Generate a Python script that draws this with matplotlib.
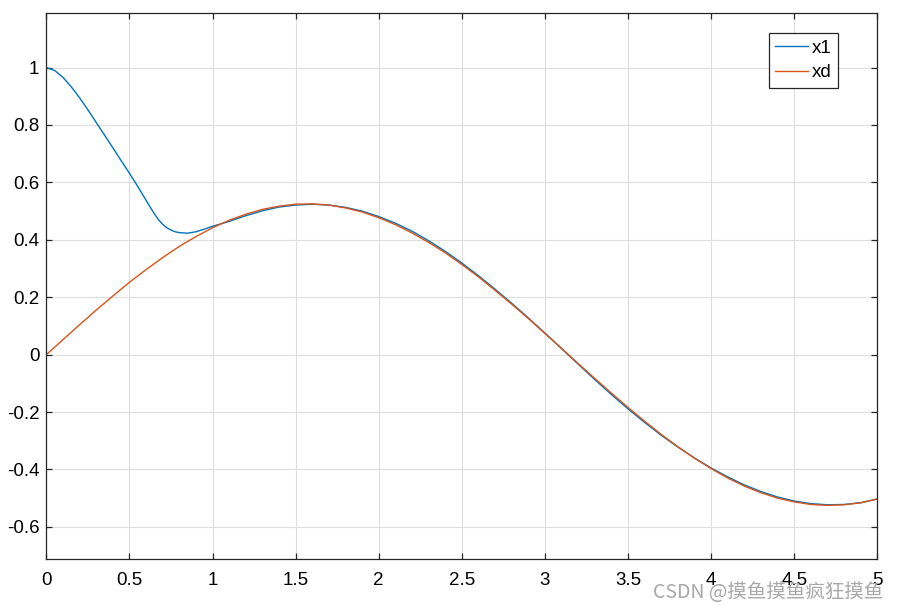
import numpy as np
import matplotlib.pyplot as plt

# time samples
t_x1 = [0.0, 0.05, 0.1, 0.15, 0.2, 0.25, 0.3, 0.35, 0.4, 0.45, 0.5,
        0.55, 0.6, 0.625, 0.65, 0.675, 0.7, 0.725, 0.75, 0.775, 0.8, 0.85, 0.9, 0.95, 1.0,
        1.1, 1.2, 1.3, 1.4, 1.5, 1.6, 1.7, 1.8, 1.9, 2.0,
        2.1, 2.2, 2.3, 2.4, 2.5, 2.6, 2.7, 2.8, 2.9, 3.0,
        3.1, 3.2, 3.3, 3.4, 3.5, 3.6, 3.7, 3.8, 3.9, 4.0,
        4.1, 4.2, 4.3, 4.4, 4.5, 4.6, 4.7, 4.8, 4.9, 5.0]
x1 = [1.000, 0.990, 0.966, 0.933, 0.895, 0.853, 0.809, 0.765, 0.721, 0.676, 0.632,
      0.586, 0.538, 0.514, 0.491, 0.470, 0.454, 0.442, 0.434, 0.428, 0.425, 0.423, 0.428, 0.437, 0.447,
      0.464, 0.484, 0.501, 0.514, 0.521, 0.524, 0.521, 0.513, 0.500, 0.481,
      0.458, 0.430, 0.397, 0.360, 0.319, 0.275, 0.228, 0.179, 0.128, 0.075,
      0.021, -0.033, -0.087, -0.139, -0.189, -0.236, -0.281, -0.322, -0.360, -0.395,
      -0.426, -0.454, -0.477, -0.496, -0.510, -0.519, -0.523, -0.522, -0.516, -0.503]

t_xd = [0.0, 0.1, 0.2, 0.3, 0.4, 0.5, 0.6, 0.7, 0.8, 0.9, 1.0,
        1.1, 1.2, 1.3, 1.4, 1.5, 1.6, 1.7, 1.8, 1.9, 2.0,
        2.1, 2.2, 2.3, 2.4, 2.5, 2.6, 2.7, 2.8, 2.9, 3.0,
        3.1, 3.2, 3.3, 3.4, 3.5, 3.6, 3.7, 3.8, 3.9, 4.0,
        4.1, 4.2, 4.3, 4.4, 4.5, 4.6, 4.7, 4.8, 4.9, 5.0]
xd = [0.000, 0.052, 0.104, 0.155, 0.204, 0.252, 0.296, 0.338, 0.377, 0.411, 0.442,
      0.468, 0.489, 0.506, 0.517, 0.524, 0.525, 0.521, 0.511, 0.497, 0.477,
      0.453, 0.424, 0.391, 0.355, 0.314, 0.271, 0.224, 0.176, 0.126, 0.074,
      0.022, -0.031, -0.083, -0.134, -0.184, -0.232, -0.278, -0.321, -0.361, -0.397,
      -0.430, -0.458, -0.481, -0.500, -0.513, -0.522, -0.525, -0.523, -0.516, -0.503]

xticks = [0, 0.5, 1, 1.5, 2, 2.5, 3, 3.5, 4, 4.5, 5]
xtick_labels = ['0', '0.5', '1', '1.5', '2', '2.5', '3', '3.5', '4', '4.5', '5']
yticks = [-0.6, -0.4, -0.2, 0, 0.2, 0.4, 0.6, 0.8, 1]
ytick_labels = ['-0.6', '-0.4', '-0.2', '0', '0.2', '0.4', '0.6', '0.8', '1']

plt.rcParams['font.family'] = ['Liberation Sans', 'DejaVu Sans']

fig = plt.figure(figsize=(8.99, 6.11), dpi=100)
ax = fig.add_axes([0.0515, 0.0846, 0.9244, 0.8941])

ax.plot(t_x1, x1, color='#0072BD', lw=1.0, label='x1')
ax.plot(t_xd, xd, color='#D95319', lw=1.0, label='xd')

ax.set_xlim(0, 5)
ax.set_ylim(-0.713, 1.19)
ax.set_xticks(xticks)
ax.set_xticklabels(xtick_labels)
ax.set_yticks(yticks)
ax.set_yticklabels(ytick_labels)
ax.grid(True, color='#dedede', lw=0.8)
ax.set_axisbelow(True)
ax.tick_params(direction='in', length=4.5, width=0.9, colors='#262626',
               labelcolor='black', labelsize=13.5, top=True, right=True)
ax.tick_params(axis='x', pad=9)
ax.tick_params(axis='y', pad=5)
for s in ax.spines.values():
    s.set_color('#262626')
    s.set_linewidth(0.9)

leg = ax.legend(loc='upper right', bbox_to_anchor=(0.9527, 0.9634),
                borderaxespad=0, fontsize=13.5, fancybox=False,
                edgecolor='#262626', framealpha=1, handlelength=1.75,
                handletextpad=0.2, borderpad=0.35, labelspacing=0.4)
leg.get_frame().set_linewidth(0.9)

fig.text(0.983, 0.031, 'CSDN @摸鱼摸鱼疯狂摸鱼', ha='right', va='center',
         fontsize=14, color='#a8a8a8',
         family=['Noto Sans CJK SC', 'DejaVu Sans'])

fig.savefig('out.png', dpi=100)
